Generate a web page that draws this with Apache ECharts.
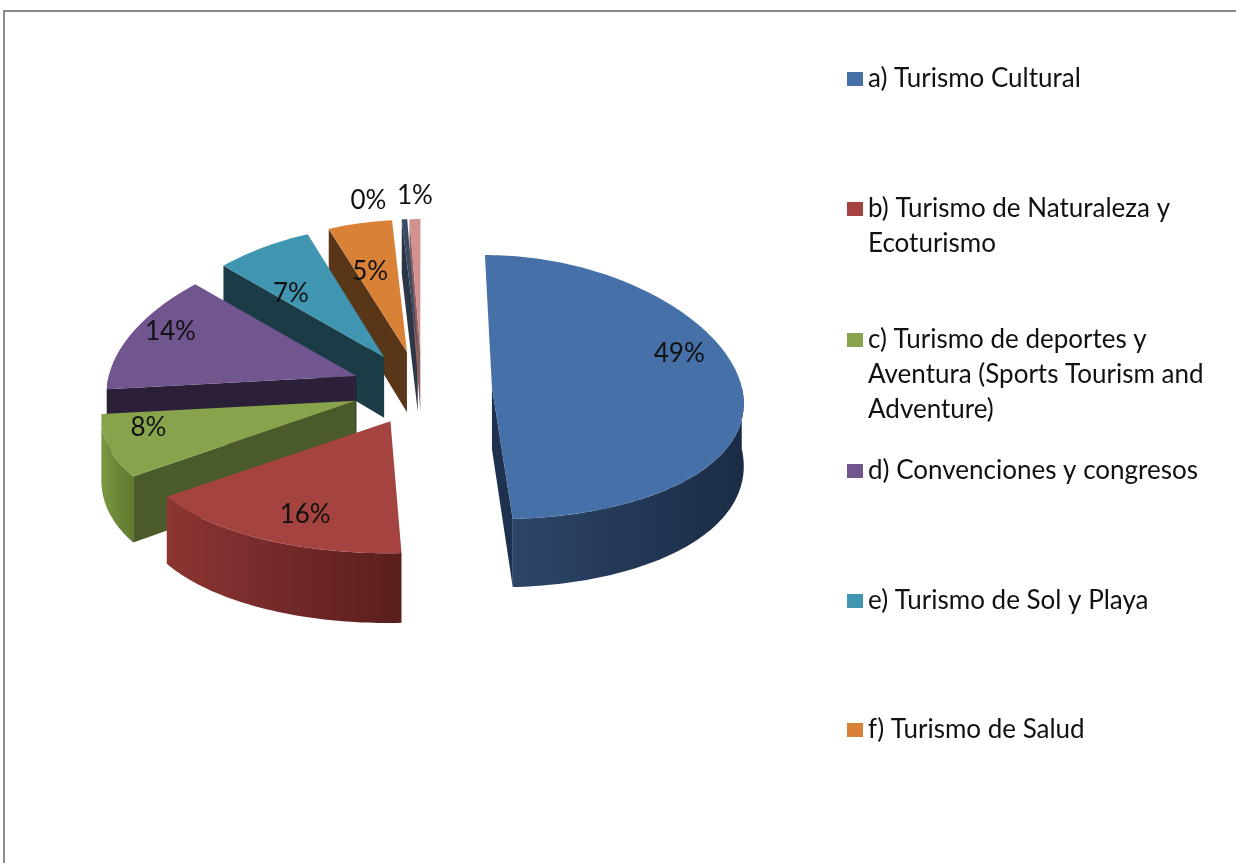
<!DOCTYPE html>
<html>
<head>
<meta charset="utf-8">
<script src="https://cdn.jsdelivr.net/npm/echarts@6/dist/echarts.min.js"></script>
<style>
html, body { margin: 0; padding: 0; background: #fff; }
#chart { width: 1236px; height: 863px; }
</style>
</head>
<body>
<div id="chart"></div>
<script>
// datos del gráfico
var categories = [
    'a) Turismo Cultural',
    'b) Turismo de Naturaleza y Ecoturismo',
    'c) Turismo de deportes y Aventura (Sports Tourism and Adventure)',
    'd) Convenciones y congresos',
    'e) Turismo de Sol y Playa',
    'f) Turismo de Salud',
    'g)',
    'h)'
];
var values = [49.2, 16.1, 8.1, 13.8, 6.9, 4.7, 0.4, 0.8];

// colores (cara superior, pared exterior, cara de corte)
var topColors = ['#4670a8', '#a54341', '#87a44d', '#70558f', '#4096b0', '#da8138', '#3b4a63', '#d29191'];
var wallColors = [
    ['#2c4569', '#1b2c45'], ['#8c3533', '#5a1e1d'], ['#7a9742', '#61792f'], ['#4e3b66', '#3a2b4c'],
    ['#2d6f83', '#1f5566'], ['#a8632a', '#7e4a1e'], ['#2a3546', '#1f2836'], ['#a06e6e', '#805656']
];
var faceColors = ['#1e3250', '#5e2423', '#4a5a28', '#2b2037', '#1b3b46', '#5a3618', '#2c3646', '#8c6060'];
// ajuste fino de las etiquetas [dx, dy]
var labelNudge = [[8, -31], [3, 8], [-31, -6], [-23, -13], [-4, 15], [-2, 12], [19, 5], [8, 1]];

// leyenda: sólo se ven las seis primeras entradas
var legendCenters = [79, 209, 340, 471, 601, 730];
var legendLines = [1, 2, 3, 1, 1, 1];

var total = values.reduce(function(s, v) { return s + v; }, 0);
var cum = [];
values.reduce(function(s, v, i) { cum[i] = s; return s + v; }, 0);

var CX = 422, CY = 388, RX = 250, RY = 132, DEPTH = 62, EXPLODE = 0.28, LABEL_R = 0.72, PERSP = 0.1;
var LH = 35;

// perspectiva simple: lo que está más cerca se ve más ancho
function project(x, y, dy) {
    var s = 1 + PERSP * (y - CY) / RY;
    return [CX + (x - CX) * s, y + (dy || 0) * s];
}

function makeRender(i) {
    return function(params, api) {
        var v = api.value(0);
        var a0 = cum[i] / total * 2 * Math.PI;
        var a1 = (cum[i] + v) / total * 2 * Math.PI;
        var am = (a0 + a1) / 2;
        var vx = CX + EXPLODE * RX * Math.sin(am);
        var vy = CY - EXPLODE * RY * Math.cos(am);

        function pt(a, dy) {
            return project(vx + RX * Math.sin(a), vy - RY * Math.cos(a), dy);
        }
        function arc(from, to, dy) {
            var n = Math.max(2, Math.ceil(Math.abs(to - from) / 0.02));
            var out = [];
            for (var k = 0; k <= n; k++) out.push(pt(from + (to - from) * k / n, dy));
            return out;
        }
        var c0 = project(vx, vy, 0), c1 = project(vx, vy, DEPTH);

        var base = Math.round(vy) * 4;
        var children = [];

        // pared exterior (sólo la mitad delantera)
        var w0 = Math.max(a0, Math.PI / 2), w1 = Math.min(a1, 1.5 * Math.PI);
        if (w1 > w0) {
            children.push({
                type: 'polygon', z2: base,
                shape: { points: arc(w0, w1, 0).concat(arc(w1, w0, DEPTH)) },
                style: {
                    fill: {
                        type: 'linear', x: 0, y: 0, x2: 1, y2: 0,
                        colorStops: [{ offset: 0, color: wallColors[i][0] }, { offset: 1, color: wallColors[i][1] }]
                    }
                }
            });
        }
        // caras de corte visibles
        if (Math.sin(a0) < -1e-6) {
            children.push({
                type: 'polygon', z2: base + 1,
                shape: { points: [c0, pt(a0), pt(a0, DEPTH), c1] },
                style: { fill: faceColors[i] }
            });
        }
        if (Math.sin(a1) > 1e-6) {
            children.push({
                type: 'polygon', z2: base + 1,
                shape: { points: [c0, pt(a1), pt(a1, DEPTH), c1] },
                style: { fill: faceColors[i] }
            });
        }
        // cara superior
        children.push({
            type: 'polygon', z2: base + 2,
            shape: { points: [c0].concat(arc(a0, a1, 0)) },
            style: { fill: topColors[i] }
        });

        // etiqueta
        var share = v / total * 100;
        var lp;
        if (share >= 2) {
            lp = project(vx + LABEL_R * RX * Math.sin(am), vy - LABEL_R * RY * Math.cos(am), 0);
        } else {
            var k = 0;
            for (var j = 0; j < i; j++) if (values[j] / total * 100 < 2) k++;
            lp = pt(am);
            lp = [lp[0] - 55 + 47 * k, lp[1] - 24];
        }
        children.push({
            type: 'text', z2: 5000,
            style: {
                text: Math.round(share) + '%',
                x: lp[0] + labelNudge[i][0], y: lp[1] + labelNudge[i][1],
                align: 'center', verticalAlign: 'middle',
                font: '26px Lato', fill: '#111'
            }
        });
        return { type: 'group', children: children };
    };
}

var chart = echarts.init(document.getElementById('chart'));
chart.setOption({
    animation: false,
    graphic: [{
        type: 'rect', silent: true,
        shape: { x: 4, y: 11, width: 1300, height: 900 },
        style: { fill: 'none', stroke: '#8a8a8a', lineWidth: 2 }
    }],
    legend: categories.slice(0, 6).map(function(name, k) {
        var n = legendLines[k];
        return {
            data: [name],
            left: 847,
            top: legendCenters[k] - (n - 0.5) * LH,
            padding: 0,
            icon: 'rect',
            itemWidth: 16,
            itemHeight: 14,
            selectedMode: false,
            // líneas vacías delante para que el icono quede en la primera línea
            formatter: function(s) { return new Array(n).join('\n') + s; },
            textStyle: {
                fontFamily: 'Lato', fontSize: 26, color: '#111',
                lineHeight: LH, width: 370, overflow: 'break'
            }
        };
    }),
    series: categories.map(function(name, i) {
        return {
            type: 'custom',
            name: name,
            coordinateSystem: 'none',
            silent: true,
            itemStyle: { color: topColors[i] },
            data: [[values[i]]],
            renderItem: makeRender(i)
        };
    })
});
</script>
</body>
</html>
